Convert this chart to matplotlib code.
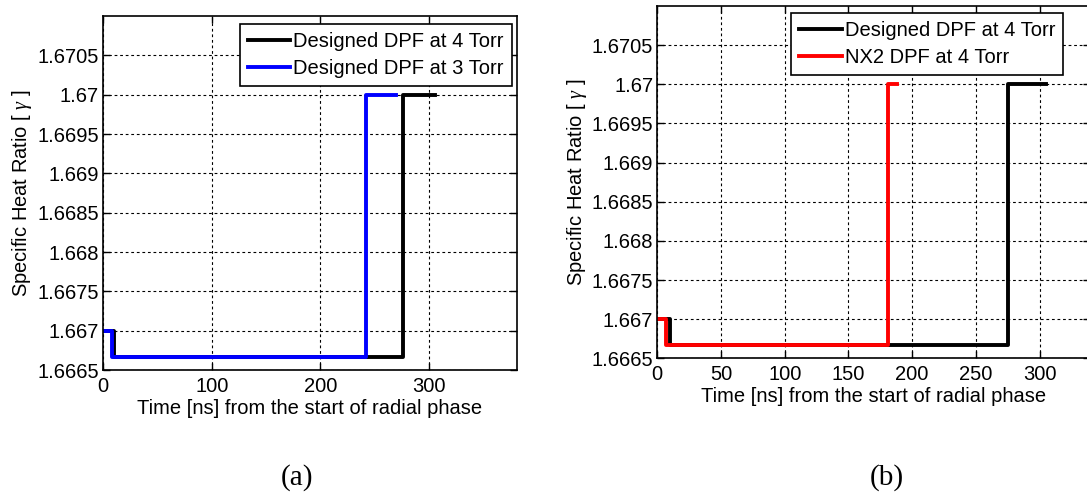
import matplotlib
matplotlib.use("Agg")
import matplotlib.pyplot as plt
from matplotlib.ticker import FuncFormatter, MultipleLocator

plt.rcParams['font.family'] = ['Liberation Sans', 'DejaVu Sans']
plt.rcParams['mathtext.fontset'] = 'custom'
plt.rcParams['mathtext.it'] = 'Liberation Serif:italic'

# step data: value g[i] holds from t[i] to t[i+1]
# (a)
a_4torr_t = [0, 10.5, 276, 306]
a_4torr_g = [1.667, 1.666667, 1.67, 1.67]
a_3torr_t = [0, 8, 242, 270]
a_3torr_g = [1.667, 1.666667, 1.67, 1.67]
# (b)
b_4torr_t = [0, 9.7, 275, 305]
b_4torr_g = [1.667, 1.666667, 1.67, 1.67]
b_nx2_t = [0, 7, 181, 188]
b_nx2_g = [1.667, 1.666667, 1.67, 1.67]

yticks = [1.6665, 1.667, 1.6675, 1.668, 1.6685, 1.669, 1.6695, 1.67, 1.6705]

fs = 14.5
fig = plt.figure(figsize=(10.87, 4.97), dpi=100)
ax1 = fig.add_axes([0.0948, 0.2555, 0.3808, 0.7123])
ax2 = fig.add_axes([0.6047, 0.2791, 0.3985, 0.7088])


def style(ax, xmax, xstep):
    ax.set_xlim(0, xmax)
    ax.set_ylim(1.6665, 1.671)
    ax.set_yticks(yticks)
    ax.xaxis.set_major_locator(MultipleLocator(xstep))
    ax.yaxis.set_major_formatter(FuncFormatter(lambda v, p: '%g' % round(v, 5)))
    ax.grid(True, color='black', linestyle=(0, (2.5, 2.5)), linewidth=0.8)
    ax.tick_params(direction='in', length=5, width=1, top=True, right=True,
                   labelsize=fs)
    ax.tick_params(axis='x', pad=5)
    ax.tick_params(axis='y', pad=3)
    for s in ax.spines.values():
        s.set_linewidth(1.2)
    ax.set_xlabel('Time [ns] from the start of radial phase', fontsize=fs, labelpad=2)
    ax.set_ylabel(r'Specific Heat Ratio [ $\gamma$ ]', fontsize=fs, labelpad=2)


def add_legend(ax, loc, anchor):
    leg = ax.legend(loc=loc, bbox_to_anchor=anchor, fontsize=fs, frameon=True,
                    fancybox=False, edgecolor='black', framealpha=1,
                    handlelength=2.1, handletextpad=0.15, borderpad=0.4,
                    labelspacing=0.4, borderaxespad=0)
    leg.get_frame().set_linewidth(1.2)
    for ln in leg.get_lines():
        ln.set_linewidth(2.8)


ax1.step(a_4torr_t, a_4torr_g, where='post', color='black', lw=2.8,
         label='Designed DPF at 4 Torr')
ax1.step(a_3torr_t, a_3torr_g, where='post', color='#0000ff', lw=2.8,
         label='Designed DPF at 3 Torr')
style(ax1, 381, 100)
add_legend(ax1, 'upper right', (1 - 5 / 414, 1 - 8 / 354))

ax2.step(b_4torr_t, b_4torr_g, where='post', color='black', lw=2.8,
         label='Designed DPF at 4 Torr')
ax2.step(b_nx2_t, b_nx2_g, where='post', color='#ff0000', lw=2.8,
         label='NX2 DPF at 4 Torr')
style(ax2, 340, 50)
add_legend(ax2, 'upper left', (134 / 433, 1 - 7 / 352))

fig.text(0.273, 0.025, '(a)', family='Liberation Serif', fontsize=21, ha='center')
fig.text(0.816, 0.025, '(b)', family='Liberation Serif', fontsize=21, ha='center')

fig.savefig('out.png', dpi=100)
